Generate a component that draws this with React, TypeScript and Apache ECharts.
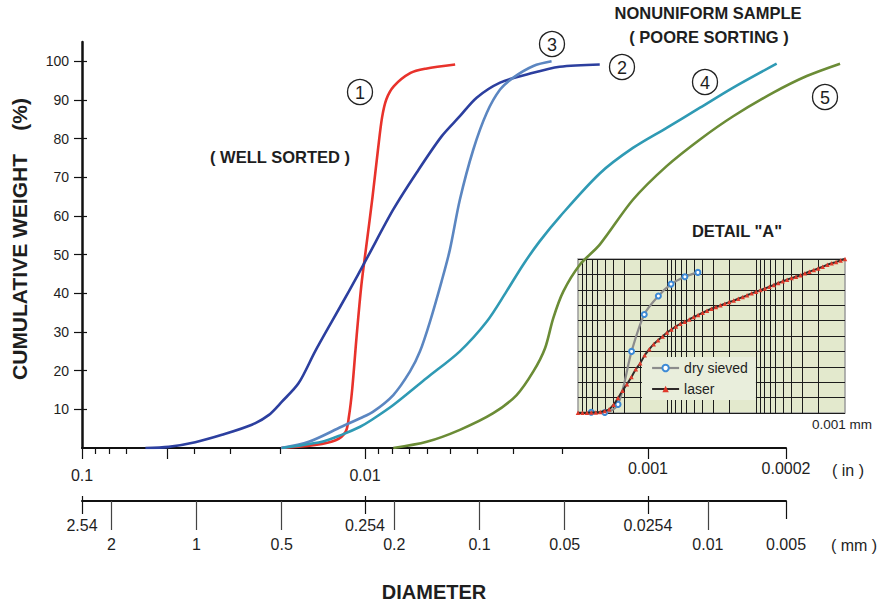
import React, { useEffect, useRef } from 'react';
import * as echarts from 'echarts';

const FONT = '"Liberation Sans", Arial, Helvetica, sans-serif';

// ---- Grain size curves: diameter (in) vs cumulative weight (%) ----
const C1_D = [0.0198, 0.015, 0.0127, 0.0117, 0.0114, 0.0111, 0.0107, 0.0103, 0.0099, 0.0094, 0.009, 0.0087, 0.0084, 0.0079, 0.0069, 0.0061, 0.0048];
const C1_W = [0, 0.8, 2, 4.2, 8, 15, 29, 42, 52, 65, 77, 85.5, 90.2, 93.6, 97, 98.1, 99.2];

const C2_D = [0.0597, 0.0494, 0.0398, 0.032, 0.0251, 0.0219, 0.01965, 0.01715, 0.015, 0.0131, 0.0114, 0.00984, 0.00794, 0.00657, 0.00536, 0.00462, 0.00403, 0.00333, 0.00268, 0.00205, 0.00148];
const C2_W = [0, 0.3, 1.5, 3.4, 6, 8.5, 12, 16.8, 25, 32.7, 40.5, 49.1, 61.7, 71.2, 80.6, 85.8, 90.6, 94.5, 96.6, 98.6, 99.2];

const C3_D = [0.0198, 0.0158, 0.0121, 0.0104, 0.00935, 0.00794, 0.00693, 0.00639, 0.00589, 0.00536, 0.00501, 0.00462, 0.00414, 0.00371, 0.00333, 0.00299, 0.00254, 0.00219];
const C3_W = [0, 1.6, 5.5, 7.7, 9.4, 13.7, 19.8, 25, 32.7, 43.1, 51.3, 64.2, 77.2, 86.7, 92.7, 95.8, 98.8, 100];

const C4_D = [0.01965, 0.0142, 0.0121, 0.0104, 0.00945, 0.00794, 0.00605, 0.00462, 0.00371, 0.00316, 0.00276, 0.00241, 0.00205, 0.00148, 0.00113, 0.000804, 0.000545, 0.00037, 0.000223];
const C4_W = [0, 1.6, 3.4, 5.5, 7.3, 11.1, 18.1, 25, 32.7, 40.5, 47.4, 53.5, 59.8, 71, 77.6, 82.8, 88, 93.2, 99.4];

const C5_D = [0.00794, 0.00605, 0.00462, 0.00352, 0.00291, 0.00254, 0.00231, 0.00216, 0.00199, 0.00174, 0.00148, 0.00113, 0.000804, 0.000545, 0.00037, 0.000232, 0.000157, 0.0001065];
const C5_W = [0, 1.6, 4.7, 9, 13.7, 19.8, 25.8, 33.6, 40.5, 47.4, 52.6, 64.2, 72.9, 79.8, 85.8, 91.9, 96.2, 99.4];

// ---- Detail "A": sizes in micrometres vs cumulative % ----
const DRY_SIZE = [710, 500, 355, 250, 180, 125, 90, 63, 45];
const DRY_PCT = [0.5, 0.3, 5.6, 40, 64, 76, 83.7, 88.5, 91.3];

const LASER_SIZE = [1000, 891, 794, 708, 631, 562, 501, 447, 398, 355, 316, 282, 251, 224, 200, 178, 158, 141, 126, 112, 100, 89.1, 79.4, 70.8, 63.1, 56.2, 50.1, 44.7, 39.8, 35.5, 31.6, 28.2, 25.1, 22.4, 20, 17.8, 15.8, 14.1, 12.6, 11.2, 10, 8.91, 7.94, 7.08, 6.31, 5.62, 5.01, 4.47, 3.98, 3.55, 3.16, 2.82, 2.51, 2.24, 2, 1.78, 1.58, 1.41, 1.26, 1.12, 1];
const LASER_PCT = [0.2, 0.2, 0.2, 0.3, 0.4, 0.65, 1.3, 2.4, 5.4, 9.8, 14.5, 18.7, 23.4, 28.4, 32.3, 37.5, 41.4, 44.7, 47.3, 49.7, 52.3, 54.2, 56.2, 57.9, 59.2, 60.7, 62.3, 63.6, 65.1, 66.4, 67.7, 68.8, 69.9, 71, 72, 73, 74.2, 75.3, 76.4, 77.7, 78.7, 79.8, 80.9, 82, 83.1, 84.4, 85.5, 86.6, 87.6, 88.5, 89.4, 90.7, 91.8, 92.8, 93.9, 95, 96.3, 97.2, 98, 99.1, 100];
const INSET_GRID_SIZE = [900, 800, 700, 600, 500, 400, 300, 200, 100, 90, 80, 70, 60, 50, 40, 30, 20, 10, 9, 8, 7, 6, 5, 4, 3, 2];

// ---- Axis ticks and labels ----
const IN_MAJOR = [0.1, 0.05, 0.01, 0.001, 0.0002];
const IN_MINOR = [0.09, 0.08, 0.07, 0.04, 0.03, 0.02, 0.009, 0.008, 0.007, 0.006, 0.005, 0.004, 0.003, 0.002];
const IN_LABELS_A = ['0.1', '0.01'];
const IN_LABELS_B = ['0.001', '0.0002'];
const MM_LONG = [2, 1, 0.5, 0.2, 0.1, 0.05, 0.01];
const MM_LABELS = ['2', '1', '0.5', '0.2', '0.1', '0.05', '0.01', '0.005'];
const MM_REF = ['2.54', '0.254', '0.0254'];
const MM_END = [0.005];
const Y_TICKS = [10, 20, 30, 40, 50, 60, 70, 80, 90, 100];

// Axis scales as drawn on the figure (decades from the left edge, piecewise logarithmic)
const IN_SCALE: [number, number][] = [[0.1, 0], [0.01, 1], [0.001, 2], [0.0002, 2.488]];
const MM_SCALE: [number, number][] = [[2.54, 0], [0.254, 1], [0.0254, 2], [0.01, 2.212], [0.005, 2.488]];

function makeScale(anchors: [number, number][]) {
  return (d: number) => {
    const L = Math.log10(d);
    for (let i = 0; i < anchors.length - 1; i++) {
      const [d0, u0] = anchors[i];
      const [d1, u1] = anchors[i + 1];
      if (d >= d1 || i === anchors.length - 2) {
        const l0 = Math.log10(d0), l1 = Math.log10(d1);
        return u0 + ((L - l0) / (l1 - l0)) * (u1 - u0);
      }
    }
    return 0;
  };
}
const uIn = makeScale(IN_SCALE);
const uMm = makeScale(MM_SCALE);
const U_MAX = uIn(0.0002) + 1e-9;
const U_EXT = 2.8; // plotting range for the curves (they run past the last labelled tick)
const uInset = (s: number) => Math.log10(1000 / s);

const fmt = (labels: string[], sc: (d: number) => number) => (v: number) => {
  let best = '';
  let bd = Infinity;
  labels.forEach((s) => {
    const dd = Math.abs(sc(parseFloat(s)) - v);
    if (dd < bd) { bd = dd; best = s; }
  });
  return best;
};

const TXT = '#1e1e1e';
const DRY_LINE = '#8c8c8c';
const DRY_MARK = '#3d8ad6';
const LASER_LINE = '#2e2929';
const LASER_MARK = '#e0392a';

export default function App() {
  const ref = useRef<HTMLDivElement>(null);
  useEffect(() => {
    if (!ref.current) return;
    const chart = echarts.init(ref.current, undefined, { renderer: 'svg' });

    const GL = 82, GT = 42, GW = 704, GH = 406;

    const xBase: any = {
      type: 'value', gridIndex: 0, min: 0, max: U_MAX, position: 'bottom',
      splitLine: { show: false },
    };
    const lbl = (extra: any) => ({
      fontSize: 16, color: TXT, fontFamily: FONT, showMinLabel: true, showMaxLabel: true, ...extra,
    });

    const curve = (name: string, D: number[], W: number[], color: string) => ({
      name, type: 'line', xAxisIndex: 6, yAxisIndex: 3,
      data: D.map((d, i) => [uIn(d), W[i]]),
      smooth: 0.3, symbol: 'none', z: 4,
      lineStyle: { color, width: 2.6 },
    });

    const option: any = {
      animation: false,
      backgroundColor: '#ffffff',
      textStyle: { fontFamily: FONT },
      grid: [
        { left: GL, top: GT, width: GW, height: GH, outerBoundsMode: 'none' },
        { left: 578, top: 259, width: 267, height: 154, show: true, backgroundColor: '#e3e9cd', borderColor: '#9a9a9a', borderWidth: 1.5, outerBoundsMode: 'none' },
        { left: GL, top: GT, width: (GW * U_EXT) / U_MAX, height: GH, outerBoundsMode: 'none' },
      ],
      legend: {
        data: [
          { name: 'dry sieved', lineStyle: { color: DRY_LINE, width: 2.2 }, itemStyle: { color: DRY_MARK } },
          { name: 'laser', lineStyle: { color: LASER_LINE, width: 2 }, itemStyle: { color: LASER_MARK } },
        ],
        orient: 'vertical', left: 642, top: 357,
        itemWidth: 27, itemHeight: 8, itemGap: 7, padding: [4, 8, 4, 9],
        backgroundColor: '#e9eedc',
        textStyle: { fontSize: 14, color: TXT, fontFamily: FONT },
      },
      xAxis: [
        {
          ...xBase,
          axisLine: { show: true, lineStyle: { color: '#111', width: 2 } },
          axisTick: { show: true, customValues: IN_MAJOR.map(uIn), length: 11, lineStyle: { color: '#111', width: 1.2 } },
          axisLabel: lbl({ customValues: IN_LABELS_A.map((s) => uIn(parseFloat(s))), formatter: fmt(IN_LABELS_A, uIn), margin: 19 }),
        },
        {
          ...xBase,
          axisLine: { show: false },
          axisTick: { show: true, customValues: IN_MINOR.map(uIn), length: 6, lineStyle: { color: '#111', width: 1.2 } },
          axisLabel: lbl({ customValues: IN_LABELS_B.map((s) => uIn(parseFloat(s))), formatter: fmt(IN_LABELS_B, uIn), margin: 12 }),
        },
        {
          ...xBase, offset: 53,
          axisLine: { show: true, lineStyle: { color: '#111', width: 2 } },
          axisTick: { show: true, customValues: MM_LONG.map(uMm), length: 29, lineStyle: { color: '#444', width: 1.2 } },
          axisLabel: lbl({ customValues: MM_LABELS.map((s) => uMm(parseFloat(s))), formatter: fmt(MM_LABELS, uMm), margin: 35 }),
        },
        {
          ...xBase, offset: 48,
          axisLine: { show: false },
          axisTick: { show: true, customValues: MM_REF.map((s) => uMm(parseFloat(s))), length: 18, lineStyle: { color: '#111', width: 1.2 } },
          axisLabel: lbl({ customValues: MM_REF.map((s) => uMm(parseFloat(s))), formatter: fmt(MM_REF, uMm), margin: 21 }),
        },
        {
          ...xBase, offset: 53,
          axisLine: { show: false },
          axisTick: { show: true, customValues: MM_END.map(uMm), length: 18, lineStyle: { color: '#111', width: 1.2 } },
          axisLabel: { show: false },
        },
        {
          type: 'value', gridIndex: 1, min: 0, max: 3,
          axisLine: { show: false },
          axisTick: { show: false, customValues: INSET_GRID_SIZE.map(uInset) },
          axisLabel: { show: false },
          splitLine: { show: true, lineStyle: { color: '#1c1c1c', width: 1 } },
        },
        { type: 'value', gridIndex: 2, min: 0, max: U_EXT, show: false },
      ],
      yAxis: [
        {
          type: 'value', gridIndex: 0, min: 0, max: 105, position: 'left',
          axisLine: { show: true, lineStyle: { color: '#111', width: 2.5 } },
          axisTick: { show: true, customValues: Y_TICKS, length: 8, lineStyle: { color: '#111', width: 1.2 } },
          axisLabel: { customValues: Y_TICKS, fontSize: 14, color: TXT, fontFamily: FONT, margin: 13, showMaxLabel: true },
          splitLine: { show: false },
        },
        {
          type: 'value', gridIndex: 0, min: 0, max: 105, position: 'left',
          axisLine: { show: false },
          axisTick: { show: true, inside: true, customValues: Y_TICKS, length: 5, lineStyle: { color: '#111', width: 1.2 } },
          axisLabel: { show: false },
          splitLine: { show: false },
        },
        {
          type: 'value', gridIndex: 1, min: 0, max: 100, interval: 10,
          axisLine: { show: false }, axisTick: { show: false }, axisLabel: { show: false },
          splitLine: { show: true, lineStyle: { color: '#1c1c1c', width: 1 } },
        },
        { type: 'value', gridIndex: 2, min: 0, max: 105, show: false },
      ],
      series: [
        curve('1', C1_D, C1_W, '#e8322b'),
        curve('2', C2_D, C2_W, '#2c3f9f'),
        curve('3', C3_D, C3_W, '#5b86c1'),
        curve('4', C4_D, C4_W, '#2f9ab4'),
        curve('5', C5_D, C5_W, '#6b8c36'),
        {
          name: 'dry sieved', type: 'line', xAxisIndex: 5, yAxisIndex: 2,
          data: DRY_SIZE.map((s, i) => [uInset(s), DRY_PCT[i]]),
          smooth: 0.3, symbol: 'emptyCircle', symbolSize: 5, z: 5,
          itemStyle: { color: DRY_MARK, borderWidth: 1.2 },
          lineStyle: { color: DRY_LINE, width: 2.2 },
        },
        {
          name: 'laser', type: 'line', xAxisIndex: 5, yAxisIndex: 2,
          data: LASER_SIZE.map((s, i) => [uInset(s), LASER_PCT[i]]),
          smooth: 0.3, symbol: 'triangle', symbolSize: 4.5, z: 6,
          itemStyle: { color: LASER_MARK },
          lineStyle: { color: LASER_LINE, width: 2 },
        },
      ],
      graphic: [
        { type: 'text', x: 19, y: 239, rotation: Math.PI / 2, style: { text: 'CUMULATIVE WEIGHT    (%)', fontSize: 21, fontWeight: 'bold', fontFamily: FONT, fill: TXT, align: 'center', verticalAlign: 'middle' } },
        { type: 'text', x: 434, y: 592, style: { text: 'DIAMETER', fontSize: 20, fontWeight: 'bold', fontFamily: FONT, fill: TXT, align: 'center', verticalAlign: 'middle' } },
        { type: 'text', x: 280, y: 157, style: { text: '( WELL SORTED )', fontSize: 16.5, fontWeight: 'bold', fontFamily: FONT, fill: TXT, align: 'center', verticalAlign: 'middle' } },
        { type: 'text', x: 708, y: 13, style: { text: 'NONUNIFORM SAMPLE', fontSize: 16.5, fontWeight: 'bold', fontFamily: FONT, fill: TXT, align: 'center', verticalAlign: 'middle' } },
        { type: 'text', x: 709, y: 37, style: { text: '( POORE SORTING )', fontSize: 16.5, fontWeight: 'bold', fontFamily: FONT, fill: TXT, align: 'center', verticalAlign: 'middle' } },
        { type: 'text', x: 737, y: 231, style: { text: 'DETAIL "A"', fontSize: 16.5, fontWeight: 'bold', fontFamily: FONT, fill: TXT, align: 'center', verticalAlign: 'middle' } },
        { type: 'text', x: 872, y: 424, style: { text: '0.001 mm', fontSize: 13.5, fontFamily: FONT, fill: TXT, align: 'right', verticalAlign: 'middle' } },
        { type: 'text', x: 848, y: 470, style: { text: '( in )', fontSize: 16, fontFamily: FONT, fill: TXT, align: 'center', verticalAlign: 'middle' } },
        { type: 'text', x: 854, y: 545, style: { text: '( mm )', fontSize: 16, fontFamily: FONT, fill: TXT, align: 'center', verticalAlign: 'middle' } },
        ...[
          ['1', 360, 92], ['2', 622, 67], ['3', 552, 44], ['4', 705, 82], ['5', 825, 97],
        ].flatMap(([t, cx, cy]) => [
          { type: 'circle', shape: { cx, cy, r: 12.5 }, style: { fill: 'none', stroke: '#222', lineWidth: 1.3 } },
          { type: 'text', x: cx, y: (cy as number) + 1, style: { text: t, fontSize: 18, fontFamily: FONT, fill: TXT, align: 'center', verticalAlign: 'middle' } },
        ]),
      ],
    };
    chart.setOption(option);
    return () => chart.dispose();
  }, []);
  return <div ref={ref} style={{ position: 'fixed', left: 0, top: 0, width: 887, height: 603 }} />;
}
